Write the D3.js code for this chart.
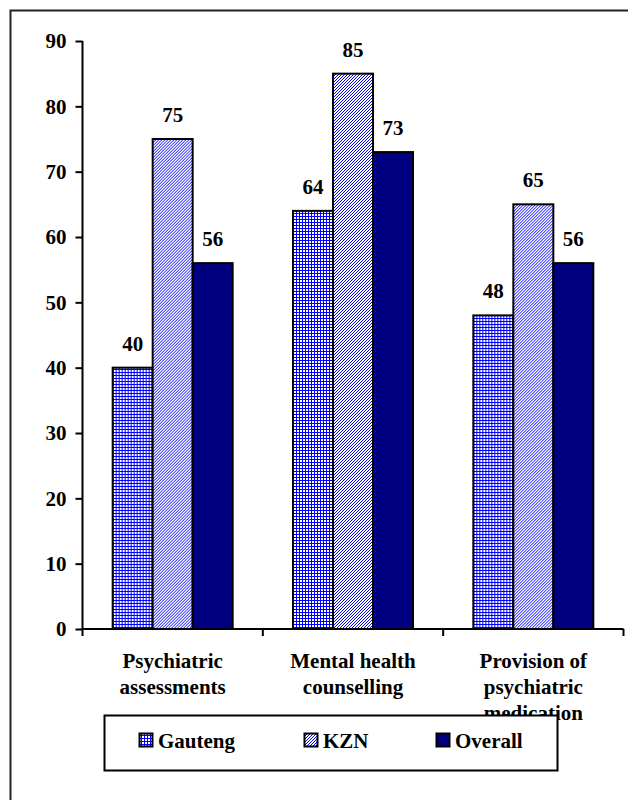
<!DOCTYPE html>
<html>
<head>
<meta charset="utf-8">
<script src="https://cdn.jsdelivr.net/npm/d3@7"></script>
<style>
  html, body { margin: 0; padding: 0; background: #fff; }
  svg { display: block; }
</style>
</head>
<body>
<script>
// Service coverage by province (%)
const categories = [
  ["Psychiatric", "assessments"],
  ["Mental health", "counselling"],
  ["Provision of", "psychiatric", "medication"]
];
const seriesNames = ["Gauteng", "KZN", "Overall"];
const gauteng = [40, 64, 48];
const kzn = [75, 85, 65];
const overall = [56, 73, 56];
const yTicks = [0, 10, 20, 30, 40, 50, 60, 70, 80, 90];

const FONT = "Liberation Serif";
const FS = 21;

const W = 628, H = 800;
const svg = d3.select("body").append("svg").attr("width", W).attr("height", H);

// fill patterns
const defs = svg.append("defs");
const grid = defs.append("pattern").attr("id", "pat-grid")
  .attr("patternUnits", "userSpaceOnUse").attr("width", 3).attr("height", 3);
grid.append("rect").attr("width", 3).attr("height", 3).attr("fill", "#0000ff");
grid.append("rect").attr("x", 1).attr("y", 1).attr("width", 2).attr("height", 2).attr("fill", "#ffffff");

const diag = defs.append("pattern").attr("id", "pat-diag")
  .attr("patternUnits", "userSpaceOnUse").attr("width", 3).attr("height", 3);
diag.append("rect").attr("width", 3).attr("height", 3).attr("fill", "#ffffff");
[[2, 0], [1, 1], [0, 2]].forEach(([x, y]) =>
  diag.append("rect").attr("x", x).attr("y", y).attr("width", 1).attr("height", 1).attr("fill", "#0000ff"));

const fills = ["url(#pat-grid)", "url(#pat-diag)", "#000080"];
const seriesValues = [gauteng, kzn, overall];

function label(sel) {
  return sel.attr("font-family", FONT).attr("font-weight", "bold").attr("fill", "#000").attr("font-size", FS);
}

// outer frame (runs off the right and bottom edges)
svg.append("path").attr("d", "M10.5,820 V10.5 H660")
  .attr("fill", "none").attr("stroke", "#222").attr("stroke-width", 2);

const x0 = 82.5, x1 = 623.5, yTop = 41, yZero = 629;
const x = d3.scaleBand().domain(d3.range(categories.length)).range([x0, x1]);
const y = d3.scaleLinear().domain([0, 90]).range([yZero, yTop]);
const barW = 40;
const sub = d3.scaleBand().domain(d3.range(3)).range([0, barW * 3]);

const plot = svg.append("g");

// y axis
const yAxis = d3.axisLeft(y).tickValues(yTicks).tickSize(7).tickPadding(9).tickFormat(d3.format("d"));
const gy = plot.append("g").attr("transform", `translate(${x0},0)`).call(yAxis)
  .attr("font-family", FONT).attr("font-size", FS);
gy.select(".domain").attr("stroke", "#000").attr("stroke-width", 2).attr("d", `M0,${yTop}V${yZero}`);
gy.selectAll(".tick line").attr("stroke", "#000").attr("stroke-width", 2);
label(gy.selectAll(".tick text")).attr("dy", "0.33em");

// x axis
const gx = plot.append("g").attr("transform", `translate(0,${yZero})`);
gx.append("line").attr("x1", x0 - 1).attr("x2", x1).attr("stroke", "#000").attr("stroke-width", 2);
const boundaries = d3.range(categories.length + 1).map(i => i < categories.length ? x(i) : x1);
gx.selectAll("line.tk").data(boundaries).join("line").attr("class", "tk")
  .attr("x1", d => d).attr("x2", d => d).attr("y1", 0).attr("y2", 7)
  .attr("stroke", "#000").attr("stroke-width", 2);

// bars
const groups = plot.selectAll("g.grp").data(categories).join("g").attr("class", "grp")
  .attr("transform", (d, i) => `translate(${x(i) + (x.bandwidth() - barW * 3) / 2},0)`);

seriesValues.forEach((vals, s) => {
  groups.append("rect")
    .attr("x", sub(s))
    .attr("y", (d, i) => y(vals[i]))
    .attr("width", barW)
    .attr("height", (d, i) => y(0) - y(vals[i]))
    .attr("fill", fills[s])
    .attr("stroke", "#000").attr("stroke-width", 2);
  label(groups.append("text"))
    .attr("x", sub(s) + barW / 2)
    .attr("y", (d, i) => y(vals[i]) - 17)
    .attr("text-anchor", "middle")
    .text((d, i) => vals[i]);
});

// category labels
groups.each(function (lines) {
  const t = label(d3.select(this).append("text")).attr("text-anchor", "middle");
  lines.forEach((ln, k) => t.append("tspan").attr("x", barW * 1.5).attr("y", 668 + k * 26).text(ln));
});

// legend
const lg = svg.append("g");
lg.append("rect").attr("x", 104.5).attr("y", 715.5).attr("width", 453).attr("height", 55)
  .attr("fill", "#fff").attr("stroke", "#000").attr("stroke-width", 2);
const legendX = [139, 304, 436];
seriesNames.forEach((name, s) => {
  lg.append("rect").attr("x", legendX[s] + 0.5).attr("y", 733.5).attr("width", 13).attr("height", 13)
    .attr("fill", fills[s]).attr("stroke", "#000").attr("stroke-width", 2);
  label(lg.append("text")).attr("x", legendX[s] + 19).attr("y", 748).text(name);
});
</script>
</body>
</html>
